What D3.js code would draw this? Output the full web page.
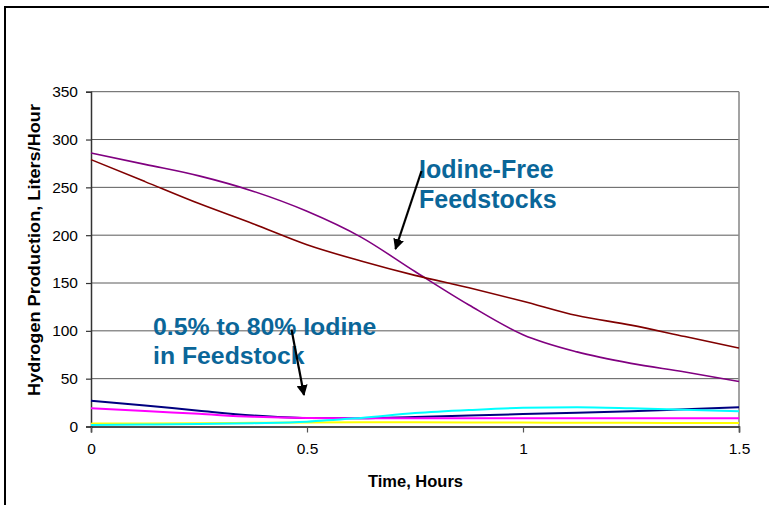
<!DOCTYPE html>
<html>
<head>
<meta charset="utf-8">
<script src="https://cdn.jsdelivr.net/npm/d3@7/dist/d3.min.js"></script>
<style>
  html, body { margin: 0; padding: 0; background: #fff; }
  svg { display: block; }
  text { font-family: "Liberation Sans", Arial, sans-serif; }
</style>
</head>
<body>
<svg id="chart" width="769" height="505"></svg>
<script>
// Sampling times (hours)
const times = [0, 0.125, 0.25, 0.375, 0.5, 0.625, 0.75, 0.875, 1.0, 1.125, 1.25, 1.375, 1.5];

// Hydrogen production (liters/hour) for each feedstock run
const seriesNavy    = [27, 22, 16.5, 11.5, 8.8, 8.6, 10, 11.5, 13, 14.5, 16, 18, 20];
const seriesMagenta = [19.2, 16.2, 13.2, 10.2, 8.8, 8.5, 8.5, 8.5, 8.5, 8.5, 8.5, 8.5, 8.5];
const seriesYellow  = [3, 3.2, 3.5, 3.9, 4.3, 4.4, 4.4, 4.3, 4.1, 4.0, 3.8, 3.7, 3.6];
const seriesCyan    = [1.5, 2, 2.6, 3.5, 5, 9, 14, 17.2, 19.5, 20, 19, 17.5, 16];
const seriesPurple  = [286, 274, 262, 246, 225, 198, 162, 127, 96, 78, 66, 57, 47];
const seriesMaroon  = [279, 256, 233, 212, 190, 173, 158, 145, 131, 116, 106, 94, 82];

const seriesList = [
  { name: "navy",    values: seriesNavy,    color: "#000080" },
  { name: "magenta", values: seriesMagenta, color: "#FF00FF" },
  { name: "yellow",  values: seriesYellow,  color: "#FFFF00" },
  { name: "cyan",    values: seriesCyan,    color: "#00FFFF" },
  { name: "purple",  values: seriesPurple,  color: "#800080" },
  { name: "maroon",  values: seriesMaroon,  color: "#800000" }
];

const yTicks = [0, 50, 100, 150, 200, 250, 300, 350];
const xTicks = [0, 0.5, 1, 1.5];
const xTitle = "Time, Hours";
const yTitle = "Hydrogen Production, Liters/Hour";

const svg = d3.select("#chart");

// Outer frame
svg.append("rect")
  .attr("x", 5).attr("y", 7)
  .attr("width", 900).attr("height", 700)
  .attr("fill", "none").attr("stroke", "#000").attr("stroke-width", 2);

const plot = { left: 91, right: 739, top: 91.7, bottom: 426.5 };

const x = d3.scaleLinear().domain([0, 1.5]).range([plot.left, plot.right]);
const y = d3.scaleLinear().domain([0, 350]).range([plot.bottom, plot.top]);

// Horizontal gridlines
svg.append("g")
  .selectAll("line")
  .data(yTicks.filter(d => d > 0))
  .join("line")
  .attr("x1", plot.left).attr("x2", plot.right)
  .attr("y1", d => y(d)).attr("y2", d => y(d))
  .attr("stroke", "#5a5a5a").attr("stroke-width", 1);

// Right edge of plot area
svg.append("line")
  .attr("x1", plot.right).attr("x2", plot.right)
  .attr("y1", plot.top).attr("y2", plot.bottom)
  .attr("stroke", "#8c8c8c").attr("stroke-width", 1.6);

// Y axis
const yAxis = d3.axisLeft(y).tickValues(yTicks).tickSize(5).tickPadding(8).tickFormat(d3.format("d"));
const gy = svg.append("g").attr("transform", `translate(${plot.left},0)`).call(yAxis);
gy.select(".domain").attr("stroke", "#333").attr("stroke-width", 1.5);
gy.selectAll(".tick line").attr("stroke", "#333").attr("stroke-width", 1.2);
gy.selectAll(".tick text")
  .attr("font-size", "15.5px").attr("fill", "#000")
  .style("font-family", "'Liberation Sans', Arial, sans-serif");

// X axis
const xAxis = d3.axisBottom(x).tickValues(xTicks).tickSize(6).tickPadding(10).tickFormat(d => String(d));
const gx = svg.append("g").attr("transform", `translate(0,${plot.bottom})`).call(xAxis);
gx.select(".domain").attr("stroke", "#111").attr("stroke-width", 1.5);
gx.selectAll(".tick line").attr("stroke", "#555").attr("stroke-width", 1.2);
gx.selectAll(".tick text")
  .attr("font-size", "15.5px").attr("fill", "#000")
  .style("font-family", "'Liberation Sans', Arial, sans-serif");

// Data lines
const line = d3.line()
  .x((d, i) => x(times[i]))
  .y(d => y(d))
  .curve(d3.curveMonotoneX);

svg.append("g")
  .selectAll("path")
  .data(seriesList)
  .join("path")
  .attr("d", s => line(s.values))
  .attr("fill", "none")
  .attr("stroke", s => s.color)
  .attr("stroke-width", s => (s.name === "purple" || s.name === "maroon") ? 1.6 : 2);

// Axis titles
svg.append("text")
  .attr("x", (plot.left + plot.right) / 2 + 0.5).attr("y", 487)
  .attr("text-anchor", "middle")
  .attr("font-size", "16.5px").attr("font-weight", "bold")
  .text(xTitle);

svg.append("text")
  .attr("transform", "translate(40,250) rotate(-90)")
  .attr("text-anchor", "middle")
  .attr("font-size", "16.5px").attr("font-weight", "bold")
  .attr("textLength", 292).attr("lengthAdjust", "spacingAndGlyphs")
  .text(yTitle);

// Annotations
const noteColor = "#0a6699";
const noteFree = svg.append("text")
  .attr("font-size", "25px").attr("font-weight", "bold").attr("fill", noteColor);
noteFree.append("tspan").attr("x", 419).attr("y", 177.5).text("Iodine-Free");
noteFree.append("tspan").attr("x", 419).attr("y", 207.5).text("Feedstocks");

const noteIodine = svg.append("text")
  .attr("font-size", "24.8px").attr("font-weight", "bold").attr("fill", noteColor);
noteIodine.append("tspan").attr("x", 153).attr("y", 334.5).text("0.5% to 80% Iodine");
noteIodine.append("tspan").attr("x", 153).attr("y", 363.5).text("in Feedstock");

// Arrows
const defs = svg.append("defs");
defs.append("marker")
  .attr("id", "arrowhead")
  .attr("viewBox", "0 0 10 10")
  .attr("refX", 9).attr("refY", 5)
  .attr("markerWidth", 5).attr("markerHeight", 5)
  .attr("markerUnits", "strokeWidth")
  .attr("orient", "auto")
  .append("path")
  .attr("d", "M0,0 L10,5 L0,10 Z")
  .attr("fill", "#000");

const arrows = [
  { x1: 421.5, y1: 171, x2: 395.5, y2: 249 },
  { x1: 291.5, y1: 329.5, x2: 304, y2: 395 }
];
svg.append("g")
  .selectAll("line")
  .data(arrows)
  .join("line")
  .attr("x1", d => d.x1).attr("y1", d => d.y1)
  .attr("x2", d => d.x2).attr("y2", d => d.y2)
  .attr("stroke", "#000").attr("stroke-width", 2.2)
  .attr("marker-end", "url(#arrowhead)");
</script>
</body>
</html>
